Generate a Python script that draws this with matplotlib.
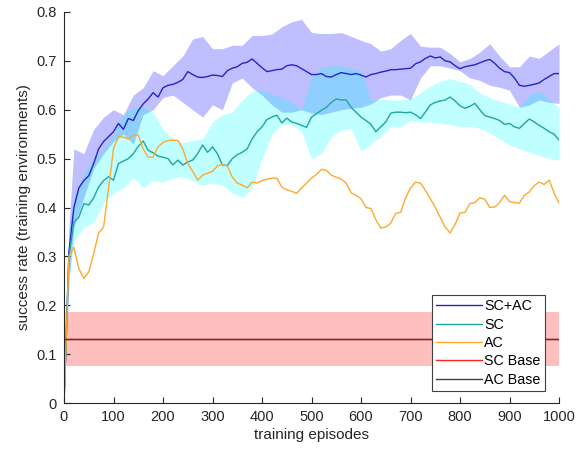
import numpy as np
import matplotlib
matplotlib.use('Agg')
import matplotlib.pyplot as plt

plt.rcParams['font.family'] = ['Liberation Sans', 'DejaVu Sans']

# episodes for the mean curves (every 10 episodes)
episodes = np.arange(0, 1001, 10)

scac = [0.0, 0.31, 0.40, 0.44, 0.455, 0.465, 0.49, 0.52, 0.535, 0.545,
        0.555, 0.572, 0.56, 0.582, 0.578, 0.598, 0.612, 0.622, 0.635, 0.626,
        0.645, 0.65, 0.652, 0.656, 0.662, 0.678, 0.672, 0.667, 0.666, 0.668,
        0.671, 0.67, 0.668, 0.68, 0.685, 0.688, 0.695, 0.697, 0.704, 0.695,
        0.686, 0.678, 0.68, 0.682, 0.683, 0.69, 0.692, 0.69, 0.684, 0.678,
        0.672, 0.672, 0.674, 0.668, 0.667, 0.672, 0.676, 0.674, 0.672, 0.674,
        0.671, 0.667, 0.672, 0.674, 0.677, 0.679, 0.682, 0.682, 0.683, 0.684,
        0.685, 0.694, 0.698, 0.705, 0.71, 0.706, 0.708, 0.70, 0.698, 0.69,
        0.684, 0.688, 0.69, 0.692, 0.696, 0.70, 0.703, 0.695, 0.685, 0.678,
        0.676, 0.665, 0.65, 0.648, 0.65, 0.652, 0.655, 0.662, 0.668, 0.674,
        0.674]

sc = [0.0, 0.30, 0.37, 0.38, 0.408, 0.405, 0.42, 0.442, 0.455, 0.463,
      0.456, 0.49, 0.495, 0.50, 0.51, 0.525, 0.536, 0.517, 0.512, 0.505,
      0.503, 0.50, 0.487, 0.497, 0.487, 0.493, 0.497, 0.51, 0.528, 0.513,
      0.524, 0.51, 0.487, 0.486, 0.50, 0.508, 0.513, 0.52, 0.54, 0.555,
      0.565, 0.58, 0.585, 0.589, 0.573, 0.583, 0.575, 0.572, 0.568, 0.564,
      0.585, 0.592, 0.599, 0.605, 0.615, 0.622, 0.62, 0.62, 0.605, 0.595,
      0.585, 0.578, 0.57, 0.555, 0.565, 0.575, 0.593, 0.595, 0.595, 0.594,
      0.595, 0.59, 0.582, 0.595, 0.61, 0.615, 0.618, 0.62, 0.626, 0.618,
      0.608, 0.603, 0.607, 0.613, 0.60, 0.588, 0.585, 0.582, 0.578, 0.57,
      0.572, 0.565, 0.562, 0.572, 0.581, 0.575, 0.568, 0.562, 0.555, 0.55,
      0.538]

ac = [0.0, 0.30, 0.318, 0.275, 0.255, 0.268, 0.306, 0.348, 0.36, 0.44,
      0.52, 0.545, 0.544, 0.54, 0.548, 0.548, 0.52, 0.503, 0.503, 0.524,
      0.533, 0.537, 0.538, 0.537, 0.52, 0.49, 0.474, 0.456, 0.466, 0.47,
      0.474, 0.485, 0.488, 0.485, 0.462, 0.45, 0.446, 0.44, 0.452, 0.45,
      0.455, 0.458, 0.46, 0.46, 0.442, 0.436, 0.433, 0.429, 0.44, 0.45,
      0.46, 0.468, 0.478, 0.476, 0.466, 0.462, 0.458, 0.45, 0.43, 0.425,
      0.418, 0.40, 0.398, 0.375, 0.358, 0.36, 0.368, 0.388, 0.39, 0.42,
      0.44, 0.452, 0.45, 0.435, 0.418, 0.40, 0.38, 0.36, 0.348, 0.365,
      0.389, 0.39, 0.408, 0.41, 0.42, 0.417, 0.40, 0.401, 0.41, 0.425,
      0.412, 0.41, 0.409, 0.425, 0.432, 0.445, 0.452, 0.447, 0.456, 0.43,
      0.409]

# episodes for the shaded bands
band_ep = [0, 10] + list(range(20, 1001, 20))

scac_hi = [0.0, 0.36, 0.52, 0.51, 0.56, 0.585, 0.60, 0.59, 0.63, 0.645,
           0.68, 0.67, 0.69, 0.71, 0.745, 0.75, 0.725, 0.725, 0.732, 0.732,
           0.752, 0.752, 0.755, 0.77, 0.78, 0.785, 0.758, 0.756, 0.756, 0.758,
           0.75, 0.742, 0.735, 0.72, 0.725, 0.742, 0.756, 0.73, 0.728, 0.728,
           0.715, 0.698, 0.705, 0.718, 0.735, 0.71, 0.688, 0.688, 0.71, 0.705,
           0.72, 0.735]
scac_lo = [0.0, 0.25, 0.36, 0.42, 0.48, 0.51, 0.535, 0.55, 0.53, 0.59,
           0.60, 0.625, 0.63, 0.615, 0.60, 0.585, 0.61, 0.60, 0.655, 0.665,
           0.645, 0.63, 0.61, 0.595, 0.595, 0.60, 0.593, 0.59, 0.595, 0.60,
           0.603, 0.605, 0.612, 0.625, 0.63, 0.63, 0.62, 0.665, 0.69, 0.69,
           0.685, 0.68, 0.665, 0.66, 0.65, 0.646, 0.64, 0.605, 0.61, 0.62,
           0.615, 0.613]
sc_hi = [0.0, 0.36, 0.42, 0.47, 0.50, 0.52, 0.55, 0.59, 0.605, 0.605,
         0.595, 0.56, 0.54, 0.532, 0.538, 0.54, 0.575, 0.59, 0.595, 0.62,
         0.638, 0.64, 0.632, 0.625, 0.615, 0.60, 0.665, 0.688, 0.69, 0.69,
         0.685, 0.68, 0.62, 0.622, 0.62, 0.62, 0.622, 0.635, 0.648, 0.658,
         0.664, 0.658, 0.652, 0.634, 0.625, 0.618, 0.612, 0.605, 0.63, 0.638,
         0.62, 0.605]
sc_lo = [0.0, 0.25, 0.33, 0.36, 0.37, 0.41, 0.43, 0.44, 0.462, 0.44,
         0.455, 0.452, 0.46, 0.463, 0.455, 0.445, 0.45, 0.445, 0.43, 0.42,
         0.44, 0.50, 0.55, 0.57, 0.57, 0.555, 0.50, 0.51, 0.545, 0.558,
         0.562, 0.515, 0.53, 0.545, 0.565, 0.565, 0.578, 0.575, 0.575, 0.572,
         0.57, 0.565, 0.566, 0.562, 0.553, 0.54, 0.528, 0.52, 0.513, 0.507,
         0.50, 0.497]

base_mean = 0.13
base_lo = 0.075
base_hi = 0.187

fig = plt.figure(figsize=(5.85, 4.51), dpi=100)
ax = fig.add_axes([0.1094, 0.1064, 0.8462, 0.867])

ax.fill_between([0, 1000], [base_lo, base_lo], [base_hi, base_hi],
                color='red', alpha=0.25, linewidth=0)
ax.fill_between(band_ep, scac_lo, scac_hi, color='blue', alpha=0.25, linewidth=0)
ax.fill_between(band_ep, sc_lo, sc_hi, color='cyan', alpha=0.25, linewidth=0)

ax.plot(episodes, scac, color='#2424cc', lw=1.0, label='SC+AC')
ax.plot(episodes, sc, color='#20a5a0', lw=1.0, label='SC')
ax.plot(episodes, ac, color='#ffa82e', lw=1.0, label='AC')
ax.plot([0, 1000], [base_mean, base_mean], color='#ff2020', lw=1.0, label='SC Base')
ax.plot([0, 1000], [base_mean, base_mean], color='#404040', lw=1.0, label='AC Base')

ax.set_xlim(0, 1000)
ax.set_ylim(0, 0.8)
ax.set_xticks(np.arange(0, 1001, 100))
ax.set_yticks(np.arange(0, 0.81, 0.1))
ax.set_yticklabels(['0', '0.1', '0.2', '0.3', '0.4', '0.5', '0.6', '0.7', '0.8'])
ax.spines['top'].set_visible(False)
ax.spines['right'].set_visible(False)
for s in ['left', 'bottom']:
    ax.spines[s].set_color('#262626')
    ax.spines[s].set_linewidth(0.8)
ax.tick_params(direction='in', length=4, width=0.8, colors='#262626',
               labelsize=10.5, pad=5)
ax.set_xlabel('training episodes', fontsize=11, color='#262626', labelpad=3)
ax.set_ylabel('success rate (training environments)', fontsize=11,
              color='#262626', labelpad=4)

leg = ax.legend(loc='lower right', bbox_to_anchor=(0.971, 0.031),
                fontsize=10.3, handlelength=3.2, handletextpad=0.15,
                labelspacing=0.3, borderpad=0.3, borderaxespad=0.0,
                fancybox=False, framealpha=1, edgecolor='#404040')
leg.get_frame().set_linewidth(0.8)

fig.savefig('out.png', dpi=100)
